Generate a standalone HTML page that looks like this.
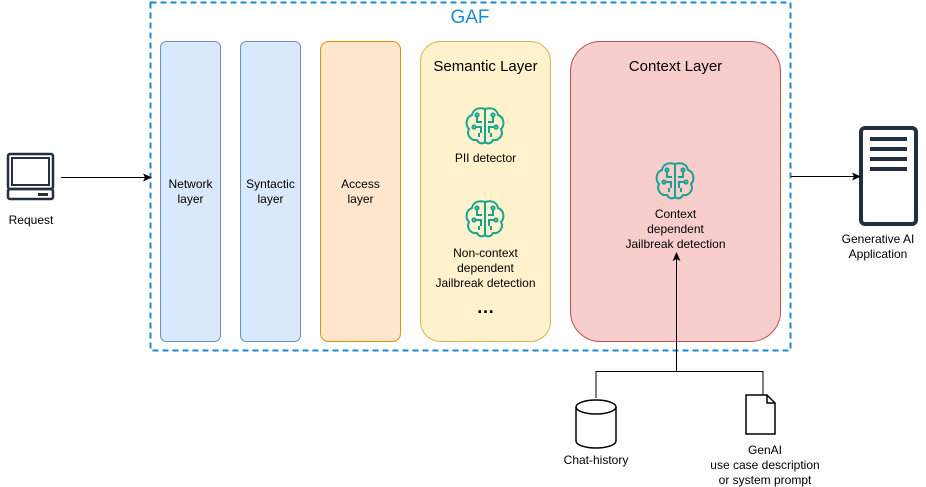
<!DOCTYPE html>
<html><head><style>
body{margin:0;background:#fff;font-family:"Liberation Sans",sans-serif;}
.t{position:absolute;font-size:12px;text-align:center;color:#000;line-height:15px;}
</style></head><body>
<div style="position:relative;width:926px;height:487px;overflow:hidden">
<svg width="926" height="487" style="position:absolute;left:0;top:0">
<defs>
<marker id="a" markerWidth="10" markerHeight="10" refX="8" refY="4" orient="auto" markerUnits="userSpaceOnUse"><path d="M0,0 L9,4 L0,8 L2,4 Z" fill="#000"/></marker>
<g id="brain" fill="none" stroke="#1aa392" stroke-width="2">
<path d="M0,-16 C-6,-18 -12,-16 -13,-10 C-19,-8 -20,0 -16,4 C-19,10 -14,16 -8,15 C-6,19 -2,19 0,17 C2,19 6,19 8,15 C14,16 19,10 16,4 C20,0 19,-8 13,-10 C12,-16 6,-18 0,-16 Z"/>
<path d="M0,-16 V17 M-8,-9 V-3 H-3 M-10,2 H-4 V8 M-6,12 V8 M8,-9 V-3 H3 M10,2 H4 V8 M6,12 V8"/>
<circle cx="-8" cy="-10" r="1.6"/><circle cx="8" cy="-10" r="1.6"/><circle cx="-11" cy="2" r="1.6"/><circle cx="11" cy="2" r="1.6"/>
</g>
</defs>
<rect x="150.5" y="2.5" width="640" height="348" fill="none" stroke="#1b8ad3" stroke-width="2" stroke-dasharray="6,4"/>
<rect x="160.5" y="41.5" width="60" height="300" rx="6" fill="#dae8fc" stroke="#6c8ebf"/>
<rect x="240.5" y="41.5" width="60" height="300" rx="6" fill="#dae8fc" stroke="#6c8ebf"/>
<rect x="320.5" y="41.5" width="80" height="300" rx="8" fill="#ffe6cc" stroke="#d79b00"/>
<rect x="420.5" y="41.5" width="130" height="300" rx="20" fill="#fff2cc" stroke="#d6b656"/>
<rect x="570.5" y="41.5" width="210" height="300" rx="30" fill="#f8cecc" stroke="#b85450"/>
<use href="#brain" transform="translate(485,125)"/>
<use href="#brain" transform="translate(485,218)"/>
<use href="#brain" transform="translate(675,180)"/>
<rect x="8" y="154" width="45" height="35" rx="2" fill="none" stroke="#232f3e" stroke-width="2.5"/>
<rect x="12" y="158" width="37" height="27" fill="none" stroke="#232f3e" stroke-width="2"/>
<rect x="8" y="189" width="45" height="10" rx="2" fill="none" stroke="#232f3e" stroke-width="2.5"/>
<rect x="38" y="193" width="10" height="3" fill="#232f3e"/>
<line x1="61" y1="177.5" x2="151" y2="177.5" stroke="#000" marker-end="url(#a)"/>
<rect x="861" y="128" width="55" height="96" rx="4" fill="none" stroke="#232f3e" stroke-width="4"/>
<g fill="#232f3e"><rect x="870" y="137" width="37" height="4"/><rect x="870" y="147" width="37" height="4"/><rect x="870" y="157" width="37" height="4"/><rect x="870" y="167" width="37" height="4"/></g>
<line x1="791" y1="176.5" x2="860" y2="176.5" stroke="#000" marker-end="url(#a)"/>
<polyline points="596,398 596,371.5 763,371.5 763,395" fill="none" stroke="#000"/>
<line x1="676.5" y1="371" x2="676.5" y2="253" stroke="#000" marker-end="url(#a)"/>
<path d="M576,407 V441 A20,7 0 0 0 616,441 V407" fill="#fff" stroke="#000" stroke-width="1.5"/>
<ellipse cx="596" cy="407" rx="20" ry="7" fill="#fff" stroke="#000" stroke-width="1.5"/>
<path d="M746,395 H767 L775,403 V434 H746 Z M767,395 V403 H775" fill="#fff" stroke="#000" stroke-width="1.5"/>
</svg>
<div class="t" style="left:150px;width:640px;top:8px;font-size:19px;color:#1b8ad3;line-height:20px">GAF</div>
<div class="t" style="left:0;width:62px;top:213px">Request</div>
<div class="t" style="left:160px;width:61px;top:177px">Network<br>layer</div>
<div class="t" style="left:240px;width:61px;top:177px">Syntactic<br>layer</div>
<div class="t" style="left:320px;width:81px;top:177px">Access<br>layer</div>
<div class="t" style="left:420px;width:131px;top:58px;font-size:15px;line-height:17px">Semantic Layer</div>
<div class="t" style="left:420px;width:131px;top:151px">PII detector</div>
<div class="t" style="left:420px;width:131px;top:246px">Non-context<br>dependent<br>Jailbreak detection</div>
<div class="t" style="left:420px;width:131px;top:300px;font-size:18px;font-weight:bold">…</div>
<div class="t" style="left:570px;width:211px;top:58px;font-size:15px;line-height:17px">Context Layer</div>
<div class="t" style="left:570px;width:211px;top:207px">Context<br>dependent<br>Jailbreak detection</div>
<div class="t" style="left:830px;width:96px;top:232px">Generative AI<br>Application</div>
<div class="t" style="left:546px;width:100px;top:453px">Chat-history</div>
<div class="t" style="left:690px;width:150px;top:443px">GenAI<br>use case description<br>or system prompt</div>
</div>
</body></html>
